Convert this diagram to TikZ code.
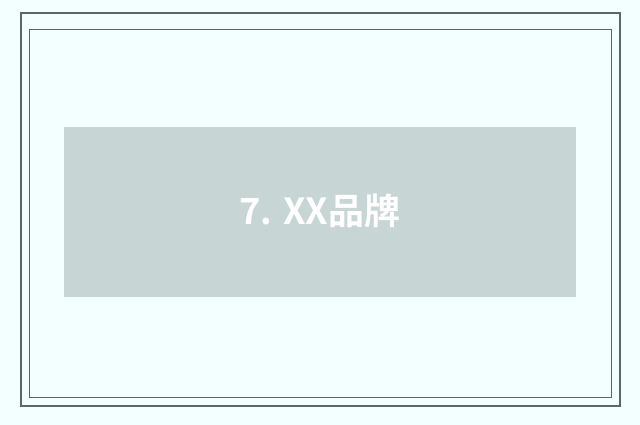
\documentclass[tikz,border=0pt]{standalone}
\usepackage{fontspec}
\newfontfamily\cjk{Noto Sans CJK SC}[BoldFont={Noto Sans CJK SC Bold}]
\definecolor{bgcol}{HTML}{F3FFFF}
\definecolor{framecol}{HTML}{5A6868}
\definecolor{boxcol}{HTML}{C8D5D5}
\tikzset{frame/.style={draw=framecol,line width=1.2pt}}
\begin{document}
\begin{tikzpicture}[x=1pt,y=-1pt]
  \useasboundingbox (0,0) rectangle (640,425);
  \fill[bgcol] (0,0) rectangle (640,425);
  \draw[frame] (21,13) rectangle (620,406);
  \draw[frame,line width=0.8pt] (29,29) rectangle (611,397);
  \fill[boxcol] (64,127) rectangle (576,297);
  \node[text=white,font=\cjk\bfseries\fontsize{36}{42}\selectfont] (title) at (320,211) {7. XX品牌};
\end{tikzpicture}
\end{document}
